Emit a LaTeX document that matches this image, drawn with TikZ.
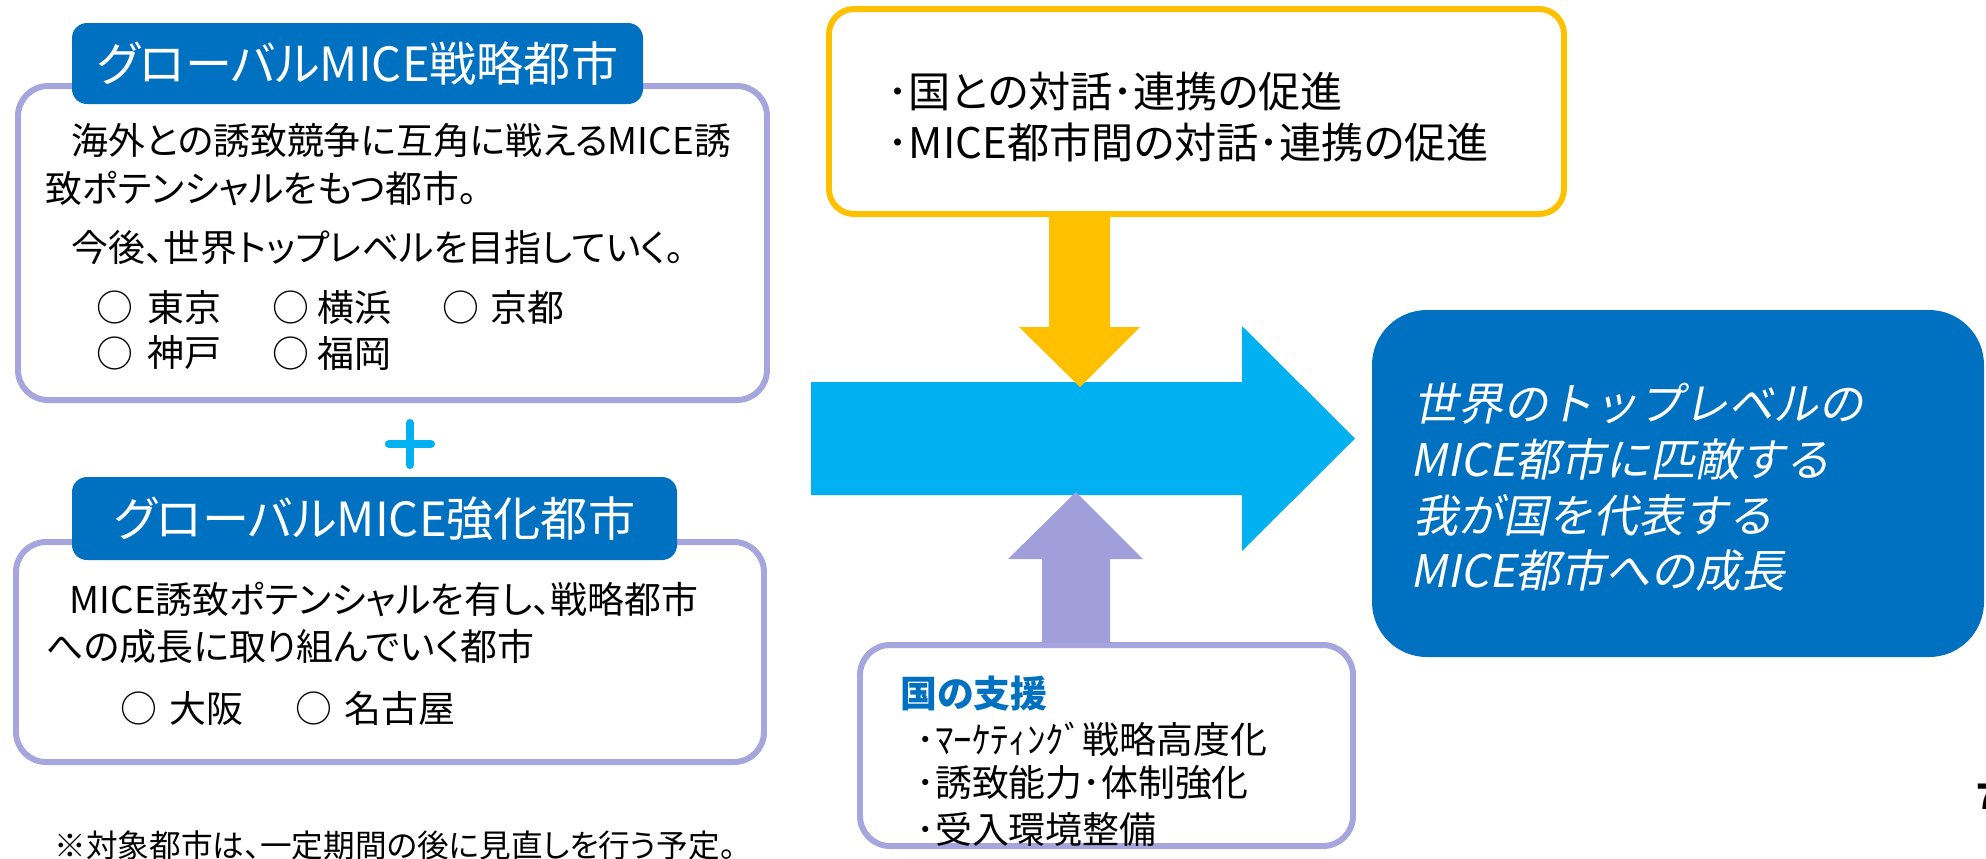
\documentclass[tikz,border=0pt]{standalone}
\usepackage{fontspec}
\newfontfamily\jp[RawFeature={+palt}]{Noto Sans CJK JP}
\newfontfamily\jpit[FakeSlant=0.2]{Noto Sans CJK JP}
\definecolor{dblue}{HTML}{0070C0}
\definecolor{cyanA}{HTML}{00B0F0}
\definecolor{gold}{HTML}{FFC000}
\definecolor{lav}{HTML}{A09FDC}
\definecolor{lavline}{HTML}{A6A5DE}
\begin{document}
\begin{tikzpicture}[x=0.1mm,y=-0.1mm,
  lavbox/.style={draw=lavline,line width=1.7pt,rounded corners=3mm,inner sep=0,fill=white},
  goldbox/.style={draw=gold,line width=1.7pt,rounded corners=2.5mm,inner sep=0,fill=white},
  tab/.style={fill=dblue,rounded corners=1.5mm,inner sep=0,text=white,font=\jp\fontsize{13.4pt}{16pt}\selectfont},
  txt/.style={anchor=west,inner sep=0,font=\jp\fontsize{10.5pt}{13pt}\selectfont},
  ytxt/.style={anchor=west,inner sep=0,font=\jp\fontsize{12pt}{14pt}\selectfont},
  rtxt/.style={anchor=west,inner sep=0,text=white,font=\jpit\fontsize{12.8pt}{15pt}\selectfont},
  notetxt/.style={anchor=west,inner sep=0,font=\jp\fontsize{9pt}{11pt}\selectfont},
]
\useasboundingbox (0,0) rectangle (1986,858);

% ---------- left: strategic cities ----------
\node[lavbox,minimum width=74.9mm,minimum height=31.4mm] (strat) at (392.5,243) {};
\node[tab,minimum width=57.1mm,minimum height=8.1mm] (tab1) at (357.5,63.5) {グローバルMICE戦略都市};
\node[txt] (s1) at (71,140) {海外との誘致競争に互角に戦えるMICE誘};
\node[txt] (s2) at (45,188) {致ポテンシャルをもつ都市。};
\node[txt] (s3) at (71,248) {今後、世界トップレベルを目指していく。};
\node[txt] (c1a) at (96,307) {○};
\node[txt] (c1b) at (147,307) {東京};
\node[txt] (c2a) at (272,307) {○};
\node[txt] (c2b) at (317,307) {横浜};
\node[txt] (c3a) at (442,307) {○};
\node[txt] (c3b) at (490,307) {京都};
\node[txt] (c4a) at (96,353) {○};
\node[txt] (c4b) at (147,353) {神戸};
\node[txt] (c5a) at (272,353) {○};
\node[txt] (c5b) at (317,353) {福岡};

% plus sign
\coordinate (plusc) at (410,444);
\draw[cyanA,line width=2.3pt,line cap=round] ([xshift=-2.1mm]plusc) -- ([xshift=2.1mm]plusc);
\draw[cyanA,line width=2.3pt,line cap=round] ([yshift=2.1mm]plusc) -- ([yshift=-2.1mm]plusc);

% ---------- left: enhancement cities ----------
\node[lavbox,minimum width=74.8mm,minimum height=22mm] (enh) at (390,652) {};
\node[tab,minimum width=60.5mm,minimum height=8.3mm] (tab2) at (374.5,518.5) {グローバルMICE強化都市};
\node[txt] (e1) at (69,599) {MICE誘致ポテンシャルを有し、戦略都市};
\node[txt] (e2) at (46,646) {への成長に取り組んでいく都市};
\node[txt] (d1a) at (120,708) {○};
\node[txt] (d1b) at (169,708) {大阪};
\node[txt] (d2a) at (295,708) {○};
\node[txt] (d2b) at (344,708) {名古屋};

\node[notetxt] (note) at (54,845) {※対象都市は、一定期間の後に見直しを行う予定。};

% ---------- centre ----------
\node[goldbox,minimum width=73.5mm,minimum height=20.5mm] (gov) at (1196.5,111.5) {};
\node[ytxt] (g1) at (887,91) {･国との対話･連携の促進};
\node[ytxt] (g2) at (887,142) {･MICE都市間の対話･連携の促進};

\node[lavbox,minimum width=49.3mm,minimum height=20.1mm] (sup) at (1106.5,745.5) {};
\node[txt,font=\jp\bfseries\fontsize{10.5pt}{13pt}\selectfont,text=dblue] (sp0) at (900,693) {国の支援};
\node[txt] (sp1) at (916,739) {･ﾏｰｹﾃｨﾝｸﾞ戦略高度化};
\node[txt] (sp2) at (916,783) {･誘致能力･体制強化};
\node[txt] (sp3) at (916,829) {･受入環境整備};

% big cyan arrow
\fill[cyanA] (811,382) -- (1242,382) -- (1242,326) -- (1355,438.5) -- (1242,551) -- (1242,495) -- (811,495) -- cycle;
% gold arrow (down)
\fill[gold] (1049,214) -- (1110,214) -- (1110,327) -- (1140,327) -- (1080,387) -- (1019,327) -- (1049,327) -- cycle;
% lavender arrow (up)
\fill[lav] (1042,643) -- (1110,643) -- (1110,559) -- (1143,559) -- (1076,492) -- (1008,559) -- (1042,559) -- cycle;

% ---------- right: result ----------
\node[fill=dblue,rounded corners=5.5mm,inner sep=0,minimum width=61.2mm,minimum height=34.7mm] (goal) at (1678,483.5) {};
\node[rtxt] (r1) at (1413,404) {世界のトップレベルの};
\node[rtxt] (r2) at (1410,459) {MICE都市に匹敵する};
\node[rtxt] (r3) at (1413,515) {我が国を代表する};
\node[rtxt] (r4) at (1410,570) {MICE都市への成長};

\node[anchor=west,inner sep=0,font=\jp\bfseries\fontsize{10pt}{12pt}\selectfont] (page) at (1976,797) {7};
\end{tikzpicture}
\end{document}
